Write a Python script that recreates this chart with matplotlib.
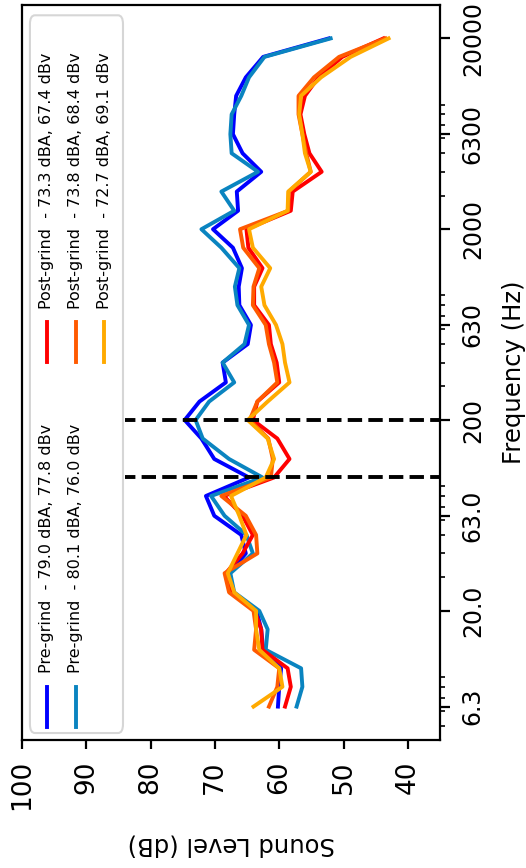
import matplotlib
matplotlib.use("Agg")
import matplotlib.pyplot as plt
from matplotlib.lines import Line2D
from matplotlib.patches import FancyBboxPatch
from matplotlib.ticker import NullFormatter

# third-octave band centres (Hz)
frecuencias = [6.3, 8, 10, 12.5, 16, 20, 25, 31.5, 40, 50, 63, 80, 100, 125, 160, 200, 250, 315,
               400, 500, 630, 800, 1000, 1250, 1600, 2000, 2500, 3150, 4000, 5000, 6300, 8000,
               10000, 12500, 16000, 20000]

pre_1 = [60.2, 60.0, 59.7, 62.5, 62.8, 63.5, 67.3, 67.8, 65.2, 65.9, 70.1, 71.4, 64.7, 70.1, 72.1,
         74.7, 72.4, 68.3, 68.8, 64.9, 64.4, 66.2, 66.3, 65.8, 67.2, 70.3, 66.4, 66.6, 62.8, 65.7,
         67.2, 67.0, 66.7, 65.2, 62.5, 52.3]
pre_2 = [57.3, 56.4, 56.6, 62.1, 61.8, 63.1, 67.0, 67.6, 64.1, 65.1, 68.5, 70.6, 62.6, 67.8, 71.9,
         73.0, 70.9, 67.0, 68.8, 65.4, 64.7, 66.5, 66.9, 66.2, 69.0, 72.1, 67.0, 69.0, 63.3, 67.4,
         67.6, 67.4, 65.9, 64.7, 62.3, 52.0]
post_1 = [59.1, 58.2, 58.7, 62.6, 62.8, 63.8, 67.5, 68.3, 65.7, 64.1, 65.7, 68.6, 60.8, 58.4, 60.3,
          64.1, 63.4, 60.0, 60.4, 61.3, 61.6, 63.9, 63.9, 62.6, 64.8, 65.1, 58.2, 57.9, 53.4, 55.3,
          56.1, 56.7, 56.0, 53.9, 50.2, 43.8]
post_2 = [61.6, 60.3, 60.0, 63.9, 63.6, 64.0, 67.8, 68.5, 63.4, 63.6, 65.2, 69.0, 61.3, 61.0, 61.7,
          64.6, 63.4, 60.3, 60.8, 61.6, 62.1, 64.1, 64.0, 63.1, 65.6, 66.1, 58.6, 58.5, 55.1, 55.8,
          56.4, 57.0, 57.0, 54.6, 50.7, 43.5]
post_3 = [64.0, 59.5, 60.0, 63.1, 63.6, 63.6, 67.0, 68.0, 66.5, 65.1, 66.2, 67.5, 62.1, 60.8, 61.8,
          64.9, 61.8, 58.4, 59.1, 59.5, 60.5, 62.3, 62.8, 61.4, 64.1, 64.7, 58.7, 58.6, 55.1, 56.0,
          56.4, 56.9, 56.6, 53.5, 48.9, 43.0]

etiquetas = ["Pre-grind  - 79.0 dBA, 77.8 dBv", "Pre-grind  - 80.1 dBA, 76.0 dBv",
             "Post-grind  - 73.3 dBA, 67.4 dBv", "Post-grind  - 73.8 dBA, 68.4 dBv",
             "Post-grind  - 72.7 dBA, 69.1 dBv"]
colores = ["#0000ff", "#0a84c0", "#ff0000", "#ff5a00", "#ffaa00"]
series = [pre_1, pre_2, post_1, post_2, post_3]

marcas_f = [6.3, 20, 63, 200, 630, 2000, 6300, 20000]
marcas_f_txt = ["6.3", "20.0", "63.0", "200", "630", "2000", "6300", "20000"]
marcas_db = [100, 90, 80, 70, 60, 50, 40]
lineas_corte = [100, 200]

fig = plt.figure(figsize=(5.26, 8.68), dpi=100)
ax = fig.add_axes([22 / 526, 1 - 740 / 868, 418 / 526, 735 / 868])

# the chart is drawn turned a quarter turn: level runs across, frequency runs up
for valores, col in zip(series, colores):
    ax.plot(valores, frecuencias, color=col, lw=2.8)

for f in lineas_corte:
    ax.plot([0, 84], [f, f], color="black", ls="--", lw=2.8)

ax.set_yscale("log")
ax.set_xlim(100, 35)
ax.set_yticks(marcas_f)
ax.set_yticklabels(marcas_f_txt)
ax.yaxis.set_minor_formatter(NullFormatter())
ax.set_xticks(marcas_db)
ax.yaxis.tick_right()
ax.yaxis.set_label_position("right")

ax.tick_params(axis="x", labelrotation=90, labelsize=19, length=6.5, width=1.6, pad=8)
ax.tick_params(axis="y", which="major", labelrotation=90, labelsize=17, length=7, width=1.6, pad=8)
ax.tick_params(axis="y", which="minor", length=3.7, width=1.2)
for t in ax.get_yticklabels():
    t.set_verticalalignment("center")
for s in ax.spines.values():
    s.set_linewidth(1.6)

ax.set_xlabel("Sound Level (dB)", rotation=180, fontsize=17.5, labelpad=16)
ax.set_ylabel("Frequency (Hz)", rotation=90, fontsize=17.5, labelpad=12)

# legend, also turned
caja = FancyBboxPatch((0.019, 0.0095), 0.2226, 0.9765, boxstyle="round,pad=0,rounding_size=0.012",
                      transform=ax.transAxes, facecolor="white", edgecolor="#cccccc", alpha=0.8,
                      lw=1.5, zorder=5)
ax.add_patch(caja)
filas_x = [0.059, 0.129, 0.059, 0.129, 0.197]
inicio_y = [0.0177, 0.0177, 0.514, 0.514, 0.514]
for i in range(5):
    x = filas_x[i]
    y0 = inicio_y[i]
    ax.add_artist(Line2D([x, x], [y0, y0 + 0.0545], color=colores[i], lw=2.8,
                         transform=ax.transAxes, zorder=6))
    ax.text(x, y0 + 0.073, etiquetas[i], rotation=90, ha="center", va="bottom",
            fontsize=11.5, transform=ax.transAxes, zorder=6)

fig.savefig("out.png", dpi=100)
